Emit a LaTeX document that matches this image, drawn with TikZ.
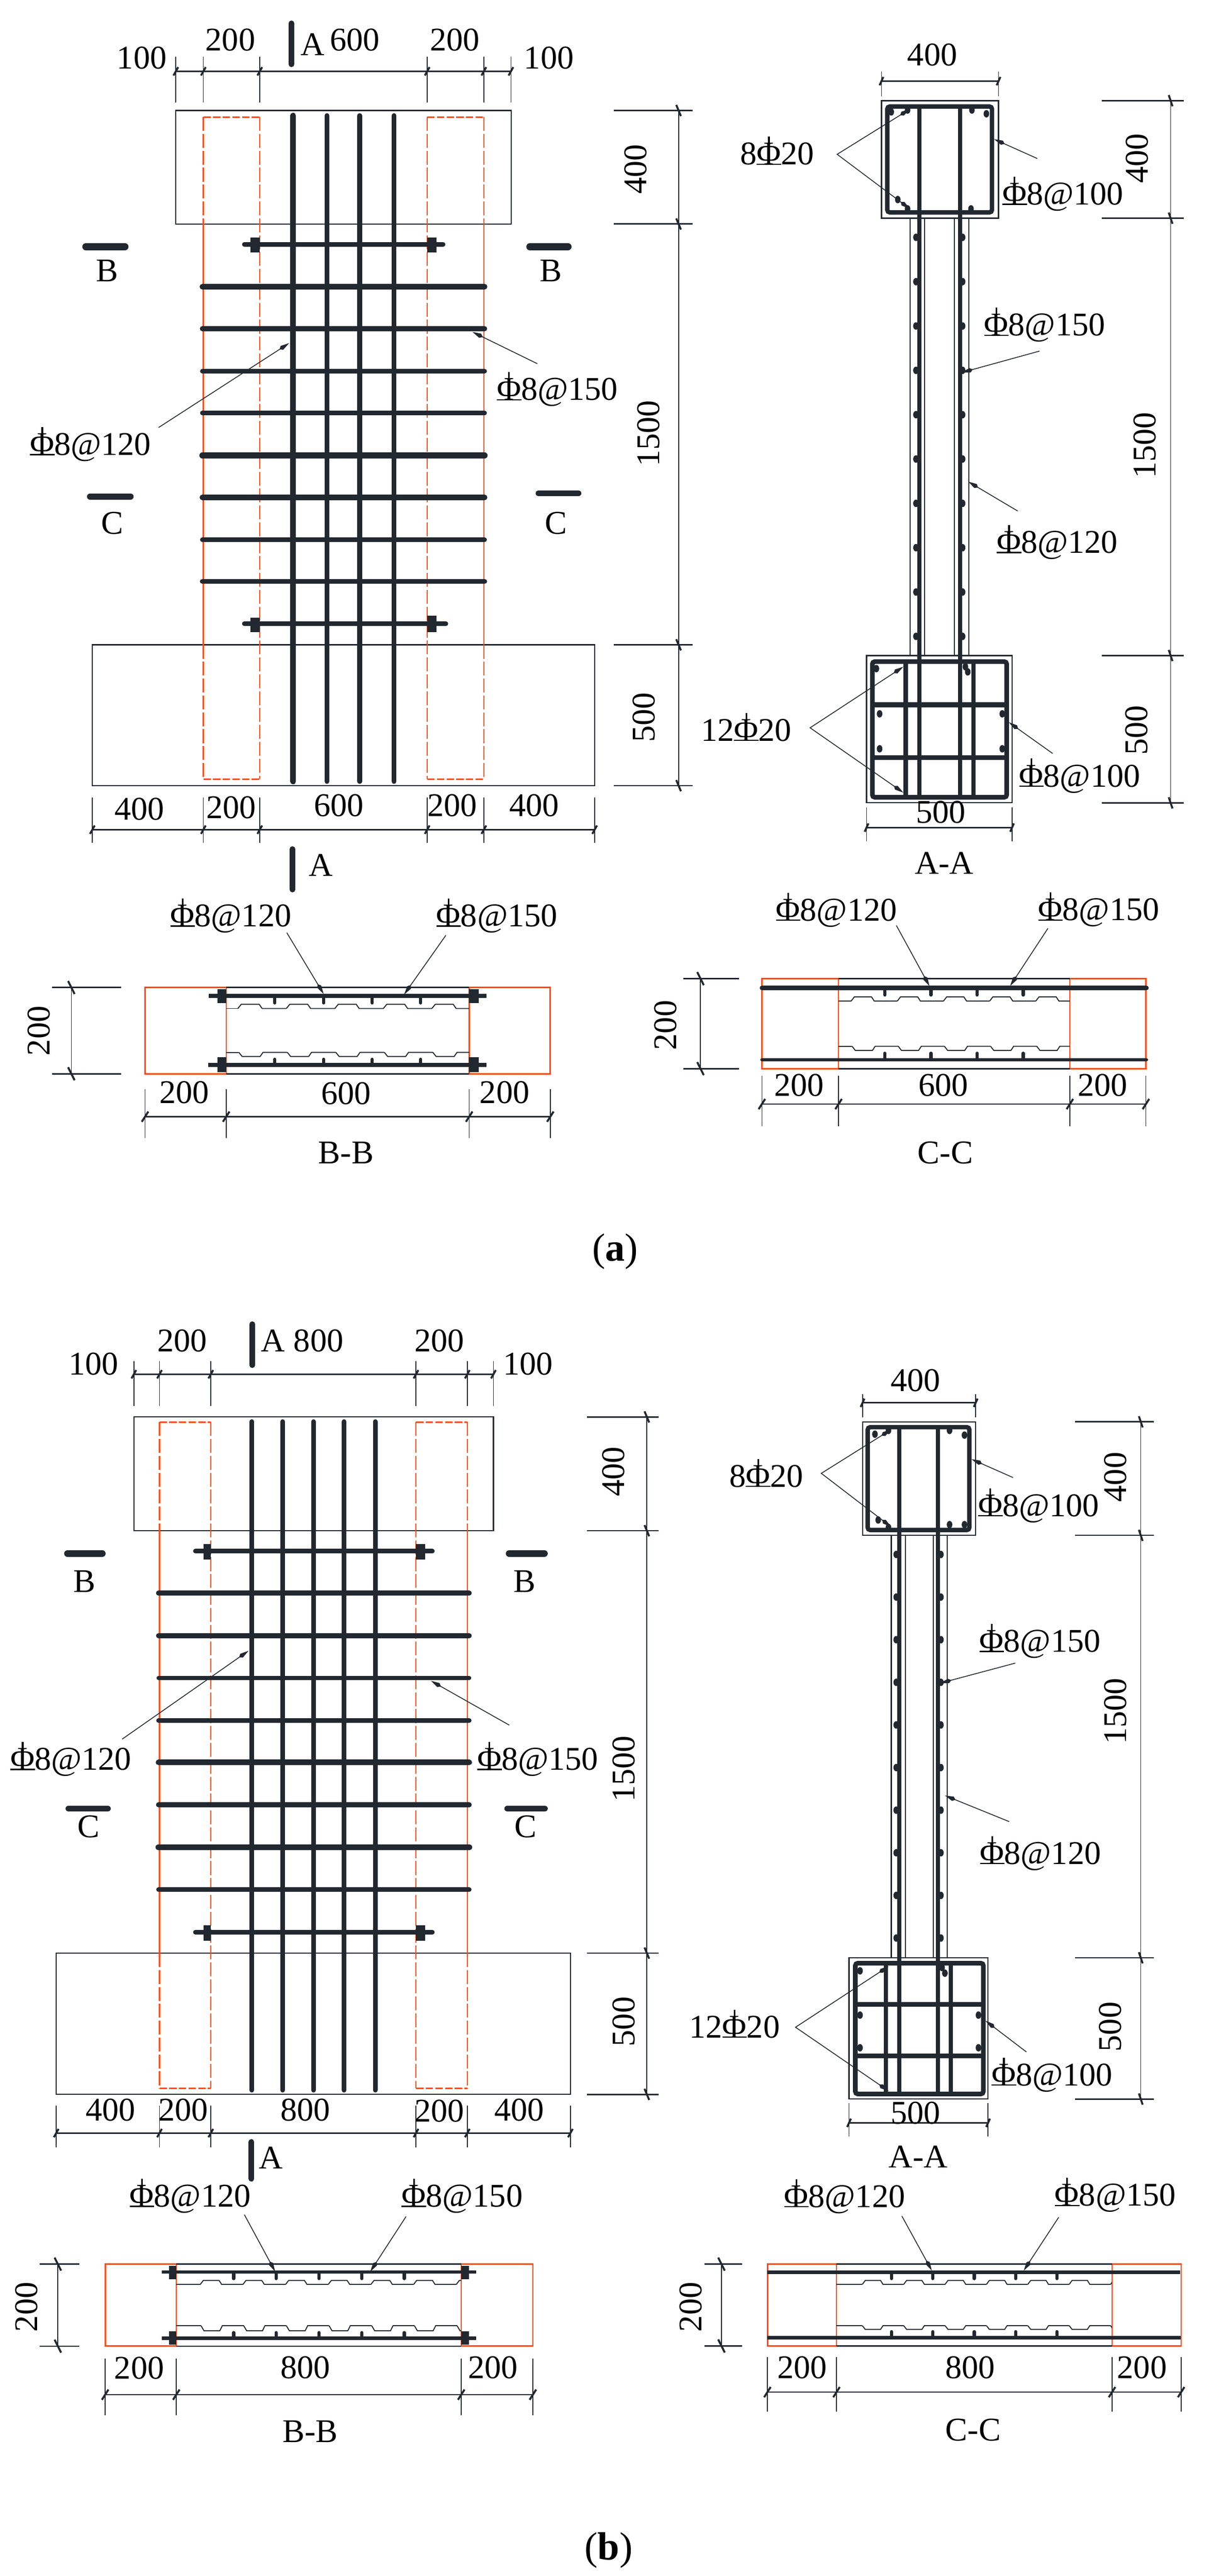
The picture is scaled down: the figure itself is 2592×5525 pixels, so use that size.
\documentclass[tikz,border=0pt]{standalone}
\usepackage{fontspec}
\setmainfont{Liberation Serif}
\usetikzlibrary{arrows.meta}
\definecolor{steel}{HTML}{22282F}
\definecolor{redline}{HTML}{FF4A12}
\newcounter{lc}
\newcommand\ph{\makebox[0pt][l]{\rule{0.74em}{0.035em}}\makebox[0pt][l]{\hspace{0.345em}\rule[0.55em]{0.05em}{0.3em}}Φ}
\tikzset{
  x=0.01cm,y=-0.01cm,
  txt/.style={font=\fontsize{20.2}{24}\selectfont,inner sep=0pt,text height=13.3pt,text depth=0pt,text=black},
  captxt/.style={font=\fontsize{24}{28}\selectfont,inner sep=0pt,text=black},
  fine/.style={draw=steel,line width=0.7pt},
  extl/.style={draw=steel,line width=0.55pt},
  dimline/.style={draw=steel,line width=0.85pt},
  tickm/.style={draw=steel,line width=1.2pt},
  rebar/.style={draw=steel,line width=#1*0.2845pt,line cap=round},
  redsolid/.style={draw=redline,line width=0.75pt},
  redbox/.style={draw=redline,line width=0.9pt},
  redlong/.style={draw=redline,line width=0.7pt,dash pattern=on 8.5pt off 1.8pt},
  redshort/.style={draw=redline,line width=0.9pt,dash pattern=on 4.5pt off 1.4pt},
  leader/.style={draw=steel,line width=0.5pt,-{Kite[length=7pt,width=2.8pt]}},
  leaderb/.style={draw=steel,line width=0.5pt,{Kite[length=7pt,width=2.8pt]}-{Kite[length=7pt,width=2.8pt]}},
  hooked/.style={fill=steel,draw=none},
  wavy/.style={draw=steel,line width=0.6pt},
}
\newcommand\lab[3]{\stepcounter{lc}\node[txt] (lab\arabic{lc}) at (#1,#2) {#3};}
\newcommand\rlab[3]{\stepcounter{lc}\node[txt,rotate=90] (lab\arabic{lc}) at (#1,#2) {#3};}
\def\tksx{5}\def\tksy{9}
% y, ext top, ext bottom, x first, x last, x list
\newcommand\hdim[6]{%
  \draw[dimline] (#4,#1) -- (#5,#1);
  \foreach \xx in {#6}{%
    \draw[extl] (\xx,#2) -- (\xx,#3);
    \draw[tickm] ({\xx-\tksx},{#1+\tksy}) -- ({\xx+\tksx},{#1-\tksy});
  }}
% x, ext left, ext right, y first, y last, y list
\newcommand\vdim[6]{%
  \draw[extl] (#1,#4) -- (#1,#5);
  \foreach \yy in {#6}{%
    \draw[dimline] (#2,\yy) -- (#3,\yy);
    \draw[tickm] ({#1-\tksx},{\yy-\tksy-3}) -- ({#1+\tksx},{\yy+\tksy+3});
  }}
% x0,x1,base y,other y,start,period,count
\newcommand\wave[7]{%
  \begin{scope}
  \clip (#1,0) rectangle (#2,5525);
  \draw[wavy] (#1,#3) -- (#5,#3);
  \foreach \ii in {0,...,#7}{%
    \pgfmathsetmacro\aa{#5+\ii*#6}
    \draw[wavy] (\aa,#3) -- ({\aa+0.07*#6},#4) -- ({\aa+0.44*#6},#4) -- ({\aa+0.5*#6},#3) -- ({\aa+#6},#3);
  }
  \end{scope}}
% bar y, tip y, x list
\newcommand\studs[3]{\foreach \xx in {#3}{\draw[rebar=7] (\xx,#1) -- (\xx,#2);}}
\newcommand\hookm[2]{\fill[hooked] (#1,#2) ellipse [x radius=6,y radius=8];}
\begin{document}
\begin{tikzpicture}
\useasboundingbox (0,0) rectangle (2592,5525);
\fill[white] (0,0) rectangle (2592,5525);

%% ================= PANEL (a) elevation =================
\draw[fine] (377,237) rectangle (1096,480.5);
\draw[fine] (198,1383) rectangle (1275,1685);
% red columns
\foreach \xx in {436,1037.5}{
  \draw[redsolid] (\xx,480) -- (\xx,1383);
  \draw[redlong] (\xx,251) -- (\xx,480);
  \draw[redlong] (\xx,1383) -- (\xx,1671);
}
\foreach \xx in {557,916}{\draw[redlong] (\xx,251) -- (\xx,1671);}
\draw[redshort] (436,251) -- (557,251);
\draw[redshort] (916,251) -- (1037.5,251);
\draw[redshort] (436,1671) -- (557,1671);
\draw[redshort] (916,1671) -- (1037.5,1671);
% horizontal bars
\foreach \yy/\w in {615/12,705/11,796/10,886/10,977/13,1067/12,1158/10,1247/11}{
  \draw[rebar=\w] (434,\yy) -- (1039,\yy);
}
\draw[rebar=10] (524,524) -- (950,524);
\draw[rebar=10] (524,1338) -- (956,1338);
\fill[steel] (537,509) rectangle (557,542);
\fill[steel] (916,509) rectangle (936,542);
\fill[steel] (537,1325) rectangle (557,1356);
\fill[steel] (916,1321) rectangle (936,1356);
% vertical bars
\draw[rebar=12.5] (628.5,248) -- (628.5,1676);
\draw[rebar=10.5] (701,248) -- (701,1676);
\draw[rebar=10.5] (771,248) -- (771,1676);
\draw[rebar=10.5] (845,248) -- (845,1676);
% dims
\hdim{153}{122}{220}{377}{1095.5}{377,436,557,916,1037.5,1095.5}
\hdim{1779.5}{1710}{1808}{198}{1275}{198,436,557,916,1037.5,1275}
\vdim{1455}{1316}{1485}{237}{1685}{237,480.5,1383,1685}
% section marks
\draw[rebar=12] (625,50) -- (625,138);
\draw[rebar=12] (627,1821) -- (627,1908);
\draw[rebar=15] (184,529) -- (268,529);
\draw[rebar=15] (1136,529) -- (1218,529);
\draw[rebar=13] (193,1065) -- (280,1065);
\draw[rebar=13] (1155,1058) -- (1240,1058);
\lab{304}{124}{100}\lab{494}{85}{200}\lab{670}{95}{A}\lab{761}{85}{600}\lab{975}{85}{200}\lab{1177}{124}{100}
\lab{230}{581}{B}\lab{1181}{581}{B}\lab{241}{1122}{C}\lab{1192}{1122}{C}
\lab{299}{1735}{400}\lab{496}{1732}{200}\lab{727}{1727}{600}\lab{970}{1727}{200}\lab{1145}{1727}{400}
\lab{688}{1856}{A}
\rlab{1363}{363}{400}\rlab{1390}{930}{1500}\rlab{1380}{1539}{500}
\lab{1195}{835}{\ph8@150}\lab{194}{953}{\ph8@120}
\draw[leader] (1152,780) -- (1013,712);
\draw[leader] (340,917) -- (620,736);

%% ================= PANEL (a) A-A =================
\draw[fine] (1890,216) rectangle (2141,468);
\draw[fine] (1858,1406) rectangle (2170,1722);
\foreach \xx in {1951,1982.5,2046.4,2077.6}{\draw[fine] (\xx,468) -- (\xx,1406);}
\draw[rebar=9.5,rounded corners=1.5pt,line cap=butt] (1902.5,228.5) rectangle (2127,455.5);
\draw[rebar=10,rounded corners=1.5pt,line cap=butt] (1870.5,1419) rectangle (2158.5,1710);
\draw[rebar=9,line cap=butt] (1971,228) -- (1971,1706);
\draw[rebar=9,line cap=butt] (2058.5,228) -- (2058.5,1706);
\draw[rebar=9,line cap=butt] (1942,1419) -- (1942,1710);
\draw[rebar=9,line cap=butt] (2087,1419) -- (2087,1710);
\draw[rebar=10.7,line cap=butt] (1870,1512) -- (2158,1512);
\draw[rebar=10.7,line cap=butt] (1870,1625) -- (2158,1625);
\foreach \ii in {0,...,9}{
  \pgfmathsetmacro\yy{509+95.1*\ii}
  \hookm{1964}{\yy}\hookm{2064}{\yy}
}
\hookm{1911}{240}\hookm{1946}{236}\hookm{2084}{236}\hookm{2115}{244}
\hookm{1925}{428}\hookm{1946}{448}\hookm{2082}{448}
\hookm{1879}{1434}\hookm{1886}{1531}\hookm{1886}{1606}\hookm{2149}{1531}\hookm{2149}{1606}\hookm{2070}{1430}\hookm{2075}{1441}
\def\tksx{4}\def\tksy{9}
\hdim{174}{154}{207}{1890}{2141}{1890,2141}
\hdim{1775}{1731}{1804}{1858}{2170}{1858,2170}
\vdim{2510}{2362}{2538}{216}{1722}{216,468,1406,1722}
\lab{1999}{118}{400}\lab{2017}{1742}{500}\lab{2024.5}{1851}{A-A}
\rlab{2438}{340}{400}\rlab{2454}{955}{1500}\rlab{2437}{1566}{500}
\lab{1666}{330}{8\ph20}\lab{2279}{416}{\ph8@100}\lab{2240}{697}{\ph8@150}\lab{2267}{1163}{\ph8@120}
\lab{1600}{1566}{12\ph20}\lab{2315}{1664}{\ph8@100}
\draw[leaderb] (1951,234) -- (1795,331) -- (1951,448);
\draw[leader] (2224,340) -- (2131.5,298.5);
\draw[leader] (2229,753) -- (2062,799);
\draw[leader] (2182,1096) -- (2076,1033);
\draw[leaderb] (1937,1430) -- (1737,1561) -- (1937,1700);
\draw[leader] (2257,1616) -- (2163,1549);

%% ================= PANEL (a) B-B =================
\draw[redbox] (485,2118) -- (311,2118) -- (311,2303) -- (485,2303);
\draw[redbox] (1006,2118) -- (1180,2118) -- (1180,2303) -- (1006,2303);
\draw[redsolid] (485,2118) -- (485,2303);
\draw[redsolid] (1006,2118) -- (1006,2303);
\draw[dimline] (485,2118) -- (1006,2118);
\draw[dimline] (485,2303) -- (1006,2303);
\draw[rebar=8,line cap=butt] (448,2136) -- (1043,2136);
\draw[rebar=8,line cap=butt] (446,2284) -- (1043,2284);
\fill[steel] (466,2122) rectangle (485,2151);
\fill[steel] (1006,2122) rectangle (1026,2151);
\fill[steel] (466,2267) rectangle (485,2299);
\fill[steel] (1006,2267) rectangle (1026,2299);
\wave{485}{1006}{2163}{2154}{510}{104}{5}
\wave{485}{1006}{2257}{2266}{512}{104}{5}
\studs{2136}{2151}{589,694,798,902}
\studs{2284}{2272}{589,694,798,902}
\def\tksx{7}\def\tksy{11}
\hdim{2395}{2336}{2441}{311}{1180}{311,485,1006,1180}
\vdim{153}{112}{259.5}{2118}{2303}{2118,2303}
\lab{395}{2343}{200}\lab{742}{2345}{600}\lab{1082}{2343}{200}\lab{742}{2472}{B-B}
\rlab{83}{2211}{200}
\lab{495}{1964}{\ph8@120}\lab{1065.5}{1964}{\ph8@150}
\draw[leader] (615,2000.5) -- (694,2132);
\draw[leader] (956,2006) -- (866.5,2133);

%% ================= PANEL (a) C-C =================
\draw[redbox] (1798,2099) -- (1633.6,2099) -- (1633.6,2292) -- (1798,2292);
\draw[redbox] (2294,2099) -- (2457,2099) -- (2457,2292) -- (2294,2292);
\draw[redsolid] (1798,2099) -- (1798,2292);
\draw[redsolid] (2294,2099) -- (2294,2292);
\draw[dimline] (1798,2099) -- (2294,2099);
\draw[dimline] (1798,2292) -- (2294,2292);
\draw[rebar=10] (1634,2119) -- (2458,2119);
\draw[rebar=7.5] (1634,2273) -- (2458,2273);
\wave{1798}{2294}{2147}{2138}{1825}{99}{5}
\wave{1798}{2294}{2244}{2253}{1827}{99}{5}
\studs{2119}{2134}{1897,1996,2095,2194}
\studs{2273}{2259}{1897,1996,2095,2194}
\hdim{2368}{2307}{2415}{1633.6}{2457}{1633.6,1798,2294,2457}
\vdim{1502}{1465}{1585}{2099}{2292}{2099,2292}
\lab{1713}{2327}{200}\lab{2023}{2327}{600}\lab{2364}{2327}{200}\lab{2027}{2472}{C-C}
\rlab{1427}{2199}{200}
\lab{1793.6}{1951.6}{\ph8@120}\lab{2356}{1951}{\ph8@150}
\draw[leader] (1922,1985) -- (1993,2115);
\draw[leader] (2247,1991) -- (2166,2114.5);
\node[captxt] (capa) at (1319,2684) {(\textbf{a})};

%% ================= PANEL (b) elevation =================
\def\tksx{5}\def\tksy{9}
\draw[fine] (287,3039) rectangle (1058,3283);
\draw[fine] (120.5,4189) rectangle (1223,4492);
\foreach \xx in {342,1002}{
  \draw[redsolid] (\xx,3283) -- (\xx,4189);
  \draw[redlong] (\xx,3050) -- (\xx,3283);
  \draw[redlong] (\xx,4189) -- (\xx,4479);
}
\foreach \xx in {452,892}{\draw[redlong] (\xx,3050) -- (\xx,4479);}
\draw[redshort] (342,3050) -- (452,3050);
\draw[redshort] (892,3050) -- (1002,3050);
\draw[redshort] (342,4479) -- (452,4479);
\draw[redshort] (892,4479) -- (1002,4479);
\foreach \yy/\w in {3417/11,3508/11,3599/9,3690/10,3780/12,3871/11,3962/13,4053/10}{
  \draw[rebar=\w] (340,\yy) -- (1006,\yy);
}
\draw[rebar=10] (419,3327) -- (927,3327);
\draw[rebar=10] (419,4144) -- (927,4144);
\fill[steel] (436,3312) rectangle (452,3345);
\fill[steel] (892,3312) rectangle (912,3345);
\fill[steel] (436,4129) rectangle (452,4162);
\fill[steel] (892,4129) rectangle (912,4162);
\foreach \xx in {540,606,672,738,804.5}{\draw[rebar=10] (\xx,3049) -- (\xx,4483);}
\hdim{2947.5}{2919}{3015}{287}{1058}{287,342,452,892,1002,1058}
\hdim{4575}{4516}{4606}{120.5}{1223}{120.5,342,452,892,1002,1223}
\vdim{1387}{1259}{1412}{3039}{4492}{3039,3283,4189,4492}
\draw[rebar=12] (541,2840) -- (541,2928);
\draw[rebar=12] (539,4594) -- (539,4673);
\draw[rebar=15] (145,3332) -- (219,3332);
\draw[rebar=15] (1092,3332) -- (1167,3332);
\draw[rebar=13] (147,3879) -- (231,3879);
\draw[rebar=13] (1088,3879) -- (1168,3879);
\lab{201}{2925}{100}\lab{391}{2876}{200}\lab{585}{2876}{A}\lab{683}{2876}{800}\lab{942}{2876}{200}\lab{1132}{2925}{100}
\lab{181}{3392}{B}\lab{1125}{3392}{B}\lab{190}{3918}{C}\lab{1127}{3918}{C}
\lab{237}{4525}{400}\lab{393}{4525}{200}\lab{654.5}{4525}{800}\lab{942}{4527}{200}\lab{1113}{4525}{400}
\lab{580.5}{4628}{A}
\rlab{1315}{3156}{400}\rlab{1337}{3794}{1500}\rlab{1337.5}{4336}{500}
\lab{152}{3773}{\ph8@120}\lab{1153}{3773}{\ph8@150}
\draw[leader] (262,3730) -- (533,3540.5);
\draw[leader] (1092,3700) -- (924,3605);

%% ================= PANEL (b) A-A =================
\draw[fine] (1849.4,3049.5) rectangle (2092,3293);
\draw[fine] (1820.5,4199) rectangle (2118.6,4502);
\foreach \xx in {1911,1941.5,2001,2031}{\draw[fine] (\xx,3293) -- (\xx,4199);}
\draw[rebar=9.5,rounded corners=1.5pt,line cap=butt] (1860.5,3061) rectangle (2078.5,3281.5);
\draw[rebar=10,rounded corners=1.5pt,line cap=butt] (1834,4210.6) rectangle (2108.5,4491);
\draw[rebar=9,line cap=butt] (1928,3061) -- (1928,4487);
\draw[rebar=9,line cap=butt] (2011.4,3061) -- (2011.4,4487);
\draw[rebar=9,line cap=butt] (1899.6,4210) -- (1899.6,4491);
\draw[rebar=9,line cap=butt] (2038.8,4210) -- (2038.8,4491);
\draw[rebar=10,line cap=butt] (1834,4299) -- (2108,4299);
\draw[rebar=10,line cap=butt] (1834,4409) -- (2108,4409);
\foreach \ii in {0,...,9}{
  \pgfmathsetmacro\yy{3334+91.4*\ii}
  \hookm{1921.7}{\yy}\hookm{2017.5}{\yy}
}
\hookm{1876}{3076}\hookm{1905}{3068}\hookm{2036}{3068}\hookm{2068}{3078}
\hookm{1883}{3260}\hookm{1905}{3276}\hookm{2036}{3270}\hookm{2068}{3270}
\hookm{1844}{4227}\hookm{1844}{4322}\hookm{1844}{4392}\hookm{2098}{4322}\hookm{2098}{4392}\hookm{2020}{4220}\hookm{2026}{4232}
\def\tksx{4}\def\tksy{9}
\hdim{3008.7}{2990}{3040}{1849.4}{2092}{1849.4,2092}
\hdim{4553}{4511}{4582}{1820.5}{2118.6}{1820.5,2118.6}
\vdim{2446}{2305}{2474.5}{3049.5}{4502}{3049.5,3293,4199,4502}
\lab{1963}{2961}{400}\lab{1963}{4532}{500}\lab{1969}{4625.5}{A-A}
\rlab{2392}{3168}{400}\rlab{2392}{3670}{1500}\rlab{2381}{4347}{500}
\lab{1643}{3166}{8\ph20}\lab{2227}{3229}{\ph8@100}\lab{2230}{3520}{\ph8@150}\lab{2231}{3975}{\ph8@120}
\lab{1575}{4347}{12\ph20}\lab{2256}{4450}{\ph8@100}
\draw[leaderb] (1911,3066) -- (1761,3160) -- (1911,3275);
\draw[leader] (2172,3169) -- (2083,3129.6);
\draw[leader] (2177,3567) -- (2016,3610);
\draw[leader] (2164,3907) -- (2026,3851);
\draw[leaderb] (1905.7,4217) -- (1705.7,4348) -- (1905.7,4485);
\draw[leader] (2200.8,4401) -- (2113,4334);

%% ================= PANEL (b) B-B =================
\draw[redbox] (378,4856) -- (225.5,4856) -- (225.5,5032) -- (378,5032);
\draw[redbox] (989,4856) -- (1142.6,4856) -- (1142.6,5032) -- (989,5032);
\draw[redsolid] (378,4856) -- (378,5032);
\draw[redsolid] (989,4856) -- (989,5032);
\draw[dimline] (378,4856) -- (989,4856);
\draw[dimline] (378,5032) -- (989,5032);
\draw[rebar=7,line cap=butt] (346.6,4873) -- (1021.5,4873);
\draw[rebar=7,line cap=butt] (346.6,5015) -- (1021.5,5015);
\fill[steel] (362,4860) rectangle (378,4888);
\fill[steel] (989,4860) rectangle (1006,4888);
\fill[steel] (362,5000) rectangle (378,5029);
\fill[steel] (989,5000) rectangle (1006,5029);
\wave{378}{989}{4899.5}{4891}{429.5}{91.5}{6}
\wave{378}{989}{4988}{4999}{431}{91.5}{6}
\studs{4873}{4887}{501,592,684,776,867}
\studs{5015}{5003}{501,592,684,776,867}
\def\tksx{7}\def\tksy{11}
\hdim{5136}{5059}{5180}{225.5}{1142.6}{225.5,378,989,1142.6}
\vdim{124}{84.6}{170}{4856}{5032}{4856,5032}
\lab{298.5}{5078.6}{200}\lab{655}{5078}{800}\lab{1057}{5078}{200}\lab{665}{5215}{B-B}
\rlab{56.4}{4948}{200}
\lab{408}{4710}{\ph8@120}\lab{991}{4710}{\ph8@150}
\draw[leader] (524,4750) -- (590,4872);
\draw[leader] (870.6,4754) -- (794,4872);

%% ================= PANEL (b) C-C =================
\draw[redbox] (1793.6,4856) -- (1645.4,4856) -- (1645.4,5031.6) -- (1793.6,5031.6);
\draw[redbox] (2384.4,4856) -- (2532.6,4856) -- (2532.6,5031.6) -- (2384.4,5031.6);
\draw[redsolid] (1793.6,4856) -- (1793.6,5031.6);
\draw[redsolid] (2384.4,4856) -- (2384.4,5031.6);
\draw[dimline] (1793.6,4856) -- (2384.4,4856);
\draw[dimline] (1793.6,5031.6) -- (2384.4,5031.6);
\draw[rebar=7,line cap=butt] (1645,4873.5) -- (2530,4873.5);
\draw[rebar=7,line cap=butt] (1645,5014) -- (2532,5014);
\wave{1793.6}{2384.4}{4899.5}{4891}{1849}{88.7}{6}
\wave{1793.6}{2384.4}{4988}{4996}{1849}{88.7}{6}
\studs{4873.5}{4887}{1911.6,2000,2089,2177.7,2266.4}
\studs{5014}{5001}{1911.6,2000,2089,2177.7,2266.4}
\hdim{5130.6}{5055}{5172.4}{1645.4}{2532.6}{1645.4,1793.6,2384.4,2532.6}
\vdim{1547}{1510}{1591.6}{4856}{5031.6}{4856,5031.6}
\lab{1720}{5078}{200}\lab{2080}{5078}{800}\lab{2448.6}{5078}{200}\lab{2086.6}{5212}{C-C}
\rlab{1480.7}{4948}{200}
\lab{1811}{4710.7}{\ph8@120}\lab{2391.6}{4708}{\ph8@150}
\draw[leader] (1933.8,4753) -- (1998,4870);
\draw[leader] (2270,4755.6) -- (2195,4870);
\node[captxt] (capb) at (1305,5470) {(\textbf{b})};
\end{tikzpicture}
\end{document}
